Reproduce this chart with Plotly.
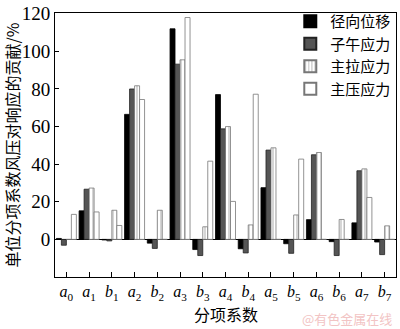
import plotly.graph_objects as go

categories = ["a0", "a1", "b1", "a2", "b2", "a3", "b3", "a4", "b4", "a5", "b5", "a6", "b6", "a7", "b7"]
tick_labels = ["<i>a</i><sub>0</sub>", "<i>a</i><sub>1</sub>", "<i>b</i><sub>1</sub>", "<i>a</i><sub>2</sub>",
               "<i>b</i><sub>2</sub>", "<i>a</i><sub>3</sub>", "<i>b</i><sub>3</sub>", "<i>a</i><sub>4</sub>",
               "<i>b</i><sub>4</sub>", "<i>a</i><sub>5</sub>", "<i>b</i><sub>5</sub>", "<i>a</i><sub>6</sub>",
               "<i>b</i><sub>6</sub>", "<i>a</i><sub>7</sub>", "<i>b</i><sub>7</sub>"]
y_ticks = [0, 20, 40, 60, 80, 100, 120]

radial_disp = [0.5, 15.2, -0.3, 66.5, -2.0, 112.0, -5.4, 77.0, -5.0, 27.5, -2.3, 10.5, -1.2, 8.8, -1.4]
meridional = [-3.1, 26.7, -0.8, 80.0, -4.8, 93.2, -8.6, 58.8, -7.2, 47.5, -7.4, 45.0, -8.6, 36.5, -8.1]
principal_tension = [0.0, 27.3, 15.5, 81.7, 15.5, 95.5, 6.7, 60.0, 7.7, 48.7, 13.0, 46.2, 10.6, 37.5, 7.2]
principal_compression = [13.3, 14.6, 7.4, 74.4, 0.0, 118.0, 41.6, 20.2, 77.2, 0.0, 42.7, 0.0, 0.0, 22.3, 0.0]

series_names = ["径向位移", "子午应力", "主拉应力", "主压应力"]

cjk = "Noto Sans CJK SC"
serif = "Liberation Serif"

fig = go.Figure()
fig.add_trace(go.Bar(x=categories, y=radial_disp, name=series_names[0],
                     marker=dict(color="#000000", line=dict(color="#000000", width=0.8))))
fig.add_trace(go.Bar(x=categories, y=meridional, name=series_names[1],
                     marker=dict(color="#555555", line=dict(color="#222222", width=0.8))))
fig.add_trace(go.Bar(x=categories, y=principal_tension, name=series_names[2],
                     marker=dict(color="#c8c8c8", line=dict(color="#777777", width=0.8),
                                 pattern=dict(shape="|", fgcolor="#888888", bgcolor="#ffffff",
                                              size=4, solidity=0.35))))
fig.add_trace(go.Bar(x=categories, y=principal_compression, name=series_names[3],
                     marker=dict(color="#ffffff", line=dict(color="#777777", width=0.8))))

fig.update_layout(
    width=400, height=329,
    margin=dict(l=55, r=3, t=5, b=52),
    paper_bgcolor="white", plot_bgcolor="white",
    barmode="group", bargap=0.12, bargroupgap=0.0,
    showlegend=True,
    legend=dict(x=0.69, y=1.03, xanchor="left", yanchor="top",
                font=dict(family=cjk, size=15, color="#000"),
                bgcolor="rgba(0,0,0,0)", tracegroupgap=0, itemsizing="constant"),
    xaxis=dict(
        tickmode="array", tickvals=categories, ticktext=tick_labels,
        range=[-0.5, 14.5],
        ticks="inside", ticklen=5, tickcolor="#000",
        tickfont=dict(family=serif, size=16, color="#000"),
        showline=True, linecolor="#000", linewidth=1, mirror=True,
        showgrid=False, zeroline=False,
    ),
    yaxis=dict(
        range=[-20, 120.4], tickmode="array", tickvals=y_ticks,
        ticks="inside", ticklen=4, tickcolor="#000",
        tickfont=dict(family=serif, size=19, color="#000"),
        ticklabeloverflow="allow",
        showline=True, linecolor="#000", linewidth=1, mirror=True,
        showgrid=False, zeroline=True, zerolinecolor="#000", zerolinewidth=1,
        title=dict(text="单位分项系数风压对响应的贡献/%", font=dict(family=cjk, size=16, color="#000"),
                   standoff=3),
    ),
    annotations=[
        dict(text="分项系数", xref="paper", yref="paper", x=0.5, y=-0.1893,
             xanchor="center", yanchor="bottom", showarrow=False, borderpad=0,
             font=dict(family=cjk, size=16, color="#000")),
        dict(text="@有色金属在线", xref="paper", yref="paper", x=0.995, y=-0.158,
             xanchor="right", yanchor="middle", showarrow=False,
             font=dict(family=cjk, size=13, color="#f2c4c4")),
    ],
)

fig.write_html("out.html")
